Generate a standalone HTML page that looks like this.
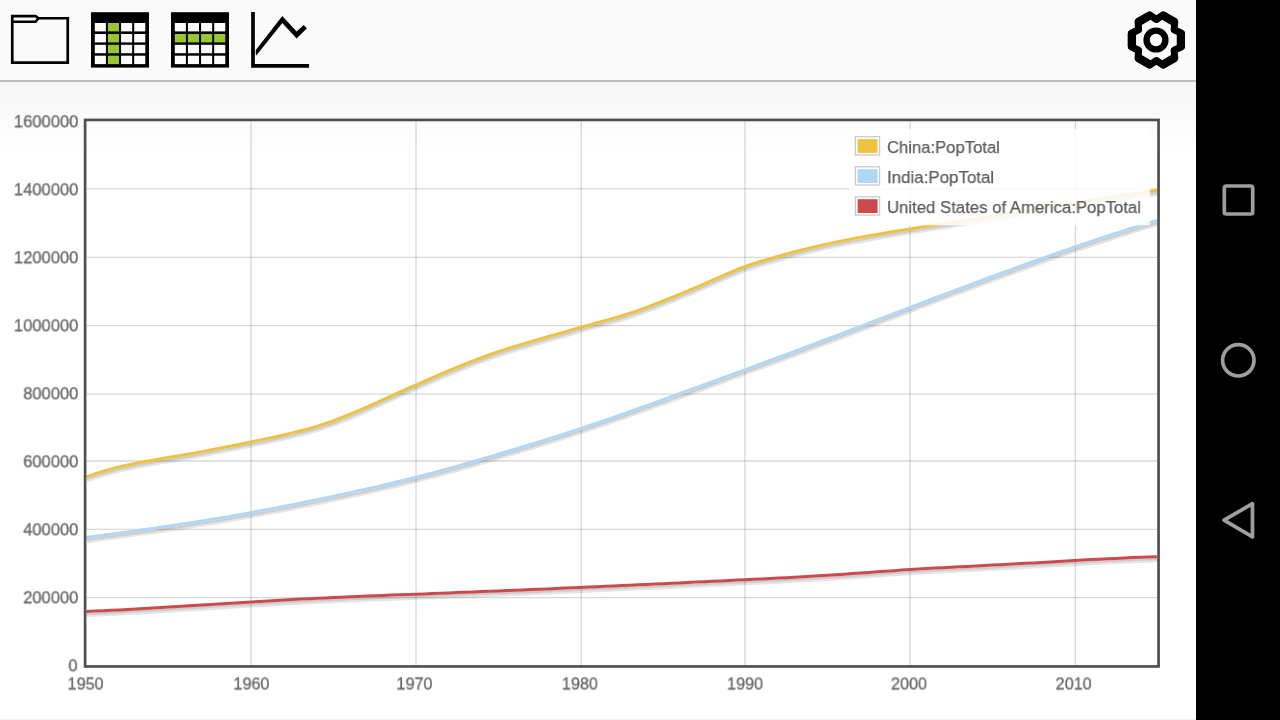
<!DOCTYPE html>
<html><head><meta charset="utf-8"><title>chart</title>
<style>
html,body{margin:0;padding:0;width:1280px;height:720px;overflow:hidden;background:#fff;font-family:"Liberation Sans",sans-serif;}
#app{position:absolute;left:0;top:0;width:1196px;height:720px;background:#fff;overflow:hidden;}
#grad{position:absolute;left:0;top:82px;width:1196px;height:70px;background:linear-gradient(to bottom,#f6f6f6 0%,#ffffff 100%);}
#bar{position:absolute;left:0;top:0;width:1196px;height:80px;background:#fafafa;border-bottom:2px solid #bcbcbc;}
#nav{position:absolute;left:1196px;top:0;width:84px;height:720px;background:#000;}
#botline{position:absolute;left:0;top:719px;width:1196px;height:1px;background:#f2f2f2;}
svg{position:absolute;left:0;top:0;}
.yl{will-change:transform;position:absolute;width:78.4px;transform-origin:100% 0;-webkit-text-stroke:0.3px #666666;text-align:right;font-size:16.8px;line-height:20px;height:20px;color:#666666;white-space:nowrap;}
.xl{will-change:transform;position:absolute;transform-origin:50% 0;-webkit-text-stroke:0.3px #666666;width:80px;text-align:center;font-size:16.8px;line-height:20px;height:20px;color:#666666;white-space:nowrap;}
#legbg{position:absolute;left:848px;top:128px;width:302px;height:97px;background:#fff;opacity:0.85;}
.lg{will-change:transform;position:absolute;transform-origin:0 0;-webkit-text-stroke:0.25px #5c5c5c;font-size:17.4px;line-height:22px;height:22px;color:#5c5c5c;white-space:nowrap;}
.sw{position:absolute;left:855.0px;width:22.84px;height:16.94px;border:1.33px solid #ccc;box-sizing:content-box;}
.sw i{position:absolute;left:1.67px;top:1.75px;right:1.4px;bottom:1.4px;display:block;}
</style></head><body>
<div id="app">
<div id="grad"></div>
<div id="bar"></div>
<svg id="chart" width="1196" height="720" viewBox="0 0 1196 720" fill="none">
<g stroke="rgba(84,84,84,0.22)" stroke-width="1.33">
<line x1="86.80" x2="1157.00" y1="597.70" y2="597.70"/>
<line x1="86.80" x2="1157.00" y1="529.30" y2="529.30"/>
<line x1="86.80" x2="1157.00" y1="461.00" y2="461.00"/>
<line x1="86.80" x2="1157.00" y1="394.10" y2="394.10"/>
<line x1="86.80" x2="1157.00" y1="325.70" y2="325.70"/>
<line x1="86.80" x2="1157.00" y1="257.30" y2="257.30"/>
<line x1="86.80" x2="1157.00" y1="188.95" y2="188.95"/>
<line x1="251.00" x2="251.00" y1="121.25" y2="665.00"/>
<line x1="416.00" x2="416.00" y1="121.25" y2="665.00"/>
<line x1="581.30" x2="581.30" y1="121.25" y2="665.00"/>
<line x1="744.90" x2="744.90" y1="121.25" y2="665.00"/>
<line x1="910.00" x2="910.00" y1="121.25" y2="665.00"/>
<line x1="1075.40" x2="1075.40" y1="121.25" y2="665.00"/>
</g>
<g stroke-linejoin="round" stroke-linecap="butt" fill="none">
<g transform="translate(0.6,3.5)"><path d="M86.3,476.8 L95.0,473.8 L103.3,471.2 L111.5,468.9 L119.7,466.8 L128.0,464.9 L136.2,463.2 L144.4,461.6 L152.7,460.2 L160.9,458.7 L169.1,457.3 L177.4,455.9 L185.6,454.6 L193.8,453.2 L202.1,451.6 L210.3,450.0 L218.5,448.4 L226.7,446.8 L235.0,445.2 L243.2,443.5 L251.4,441.8 L259.7,440.1 L267.9,438.4 L276.1,436.7 L284.4,434.8 L292.6,432.9 L300.8,430.8 L309.1,428.6 L317.3,426.2 L325.5,423.5 L333.8,420.7 L342.0,417.5 L350.2,414.2 L358.5,410.7 L366.7,407.1 L374.9,403.4 L383.2,399.6 L391.4,395.8 L399.6,392.1 L407.9,388.5 L416.1,384.9 L424.3,381.3 L432.6,377.7 L440.8,374.1 L449.0,370.6 L457.3,367.2 L465.5,363.8 L473.7,360.6 L482.0,357.5 L490.2,354.5 L498.4,351.7 L506.6,348.9 L514.9,346.4 L523.1,343.9 L531.3,341.5 L539.6,339.1 L547.8,336.8 L556.0,334.5 L564.3,332.1 L572.5,329.6 L580.7,327.2 L589.0,325.0 L597.2,322.7 L605.4,320.4 L613.7,318.1 L621.9,315.7 L630.1,313.1 L638.4,310.3 L646.6,307.3 L654.8,304.2 L663.1,301.0 L671.3,297.7 L679.5,294.3 L687.8,290.9 L696.0,287.4 L704.2,283.8 L712.5,280.2 L720.7,276.6 L728.9,273.0 L737.2,269.5 L745.4,266.3 L753.6,263.5 L761.8,261.0 L770.1,258.7 L778.3,256.3 L786.5,254.0 L794.8,251.8 L803.0,249.7 L811.2,247.6 L819.5,245.7 L827.7,243.9 L835.9,242.1 L844.2,240.5 L852.4,238.8 L860.6,237.3 L868.9,235.8 L877.1,234.4 L885.3,233.0 L893.6,231.6 L901.8,230.2 L910.0,228.9 L918.3,227.6 L926.5,226.3 L934.7,225.0 L943.0,223.7 L951.2,222.4 L959.4,221.1 L967.7,219.8 L975.9,218.5 L984.1,217.2 L992.4,215.9 L1000.6,214.6 L1008.8,213.3 L1017.1,212.0 L1025.3,210.7 L1033.5,209.4 L1041.7,208.1 L1050.0,206.8 L1058.2,205.5 L1066.4,204.2 L1074.7,202.9 L1082.9,201.6 L1091.1,200.3 L1099.4,199.1 L1107.6,197.8 L1115.8,196.5 L1124.1,195.2 L1132.3,194.0 L1140.5,192.7 L1148.8,191.5 L1157.0,190.2" stroke="rgba(0,0,0,0.1)" stroke-width="4.3"/></g><g transform="translate(0.42,2.45)"><path d="M86.3,476.8 L95.0,473.8 L103.3,471.2 L111.5,468.9 L119.7,466.8 L128.0,464.9 L136.2,463.2 L144.4,461.6 L152.7,460.2 L160.9,458.7 L169.1,457.3 L177.4,455.9 L185.6,454.6 L193.8,453.2 L202.1,451.6 L210.3,450.0 L218.5,448.4 L226.7,446.8 L235.0,445.2 L243.2,443.5 L251.4,441.8 L259.7,440.1 L267.9,438.4 L276.1,436.7 L284.4,434.8 L292.6,432.9 L300.8,430.8 L309.1,428.6 L317.3,426.2 L325.5,423.5 L333.8,420.7 L342.0,417.5 L350.2,414.2 L358.5,410.7 L366.7,407.1 L374.9,403.4 L383.2,399.6 L391.4,395.8 L399.6,392.1 L407.9,388.5 L416.1,384.9 L424.3,381.3 L432.6,377.7 L440.8,374.1 L449.0,370.6 L457.3,367.2 L465.5,363.8 L473.7,360.6 L482.0,357.5 L490.2,354.5 L498.4,351.7 L506.6,348.9 L514.9,346.4 L523.1,343.9 L531.3,341.5 L539.6,339.1 L547.8,336.8 L556.0,334.5 L564.3,332.1 L572.5,329.6 L580.7,327.2 L589.0,325.0 L597.2,322.7 L605.4,320.4 L613.7,318.1 L621.9,315.7 L630.1,313.1 L638.4,310.3 L646.6,307.3 L654.8,304.2 L663.1,301.0 L671.3,297.7 L679.5,294.3 L687.8,290.9 L696.0,287.4 L704.2,283.8 L712.5,280.2 L720.7,276.6 L728.9,273.0 L737.2,269.5 L745.4,266.3 L753.6,263.5 L761.8,261.0 L770.1,258.7 L778.3,256.3 L786.5,254.0 L794.8,251.8 L803.0,249.7 L811.2,247.6 L819.5,245.7 L827.7,243.9 L835.9,242.1 L844.2,240.5 L852.4,238.8 L860.6,237.3 L868.9,235.8 L877.1,234.4 L885.3,233.0 L893.6,231.6 L901.8,230.2 L910.0,228.9 L918.3,227.6 L926.5,226.3 L934.7,225.0 L943.0,223.7 L951.2,222.4 L959.4,221.1 L967.7,219.8 L975.9,218.5 L984.1,217.2 L992.4,215.9 L1000.6,214.6 L1008.8,213.3 L1017.1,212.0 L1025.3,210.7 L1033.5,209.4 L1041.7,208.1 L1050.0,206.8 L1058.2,205.5 L1066.4,204.2 L1074.7,202.9 L1082.9,201.6 L1091.1,200.3 L1099.4,199.1 L1107.6,197.8 L1115.8,196.5 L1124.1,195.2 L1132.3,194.0 L1140.5,192.7 L1148.8,191.5 L1157.0,190.2" stroke="rgba(0,0,0,0.1)" stroke-width="2.2"/></g><path d="M86.3,476.8 L95.0,473.8 L103.3,471.2 L111.5,468.9 L119.7,466.8 L128.0,464.9 L136.2,463.2 L144.4,461.6 L152.7,460.2 L160.9,458.7 L169.1,457.3 L177.4,455.9 L185.6,454.6 L193.8,453.2 L202.1,451.6 L210.3,450.0 L218.5,448.4 L226.7,446.8 L235.0,445.2 L243.2,443.5 L251.4,441.8 L259.7,440.1 L267.9,438.4 L276.1,436.7 L284.4,434.8 L292.6,432.9 L300.8,430.8 L309.1,428.6 L317.3,426.2 L325.5,423.5 L333.8,420.7 L342.0,417.5 L350.2,414.2 L358.5,410.7 L366.7,407.1 L374.9,403.4 L383.2,399.6 L391.4,395.8 L399.6,392.1 L407.9,388.5 L416.1,384.9 L424.3,381.3 L432.6,377.7 L440.8,374.1 L449.0,370.6 L457.3,367.2 L465.5,363.8 L473.7,360.6 L482.0,357.5 L490.2,354.5 L498.4,351.7 L506.6,348.9 L514.9,346.4 L523.1,343.9 L531.3,341.5 L539.6,339.1 L547.8,336.8 L556.0,334.5 L564.3,332.1 L572.5,329.6 L580.7,327.2 L589.0,325.0 L597.2,322.7 L605.4,320.4 L613.7,318.1 L621.9,315.7 L630.1,313.1 L638.4,310.3 L646.6,307.3 L654.8,304.2 L663.1,301.0 L671.3,297.7 L679.5,294.3 L687.8,290.9 L696.0,287.4 L704.2,283.8 L712.5,280.2 L720.7,276.6 L728.9,273.0 L737.2,269.5 L745.4,266.3 L753.6,263.5 L761.8,261.0 L770.1,258.7 L778.3,256.3 L786.5,254.0 L794.8,251.8 L803.0,249.7 L811.2,247.6 L819.5,245.7 L827.7,243.9 L835.9,242.1 L844.2,240.5 L852.4,238.8 L860.6,237.3 L868.9,235.8 L877.1,234.4 L885.3,233.0 L893.6,231.6 L901.8,230.2 L910.0,228.9 L918.3,227.6 L926.5,226.3 L934.7,225.0 L943.0,223.7 L951.2,222.4 L959.4,221.1 L967.7,219.8 L975.9,218.5 L984.1,217.2 L992.4,215.9 L1000.6,214.6 L1008.8,213.3 L1017.1,212.0 L1025.3,210.7 L1033.5,209.4 L1041.7,208.1 L1050.0,206.8 L1058.2,205.5 L1066.4,204.2 L1074.7,202.9 L1082.9,201.6 L1091.1,200.3 L1099.4,199.1 L1107.6,197.8 L1115.8,196.5 L1124.1,195.2 L1132.3,194.0 L1140.5,192.7 L1148.8,191.5 L1157.0,190.2" stroke="#edc240" stroke-width="3.0"/>
<g transform="translate(0.6,3.5)"><path d="M86.3,537.5 L95.0,536.3 L103.3,535.2 L111.5,534.1 L119.7,533.0 L128.0,531.9 L136.2,530.7 L144.4,529.6 L152.7,528.4 L160.9,527.2 L169.1,526.0 L177.4,524.8 L185.6,523.5 L193.8,522.2 L202.1,520.9 L210.3,519.6 L218.5,518.3 L226.7,516.9 L235.0,515.5 L243.2,514.0 L251.4,512.5 L259.7,511.0 L267.9,509.5 L276.1,507.9 L284.4,506.3 L292.6,504.7 L300.8,503.0 L309.1,501.3 L317.3,499.6 L325.5,497.9 L333.8,496.2 L342.0,494.4 L350.2,492.6 L358.5,490.8 L366.7,489.0 L374.9,487.1 L383.2,485.2 L391.4,483.3 L399.6,481.3 L407.9,479.2 L416.1,477.2 L424.3,475.0 L432.6,472.9 L440.8,470.6 L449.0,468.4 L457.3,466.1 L465.5,463.8 L473.7,461.4 L482.0,459.0 L490.2,456.6 L498.4,454.2 L506.6,451.7 L514.9,449.2 L523.1,446.7 L531.3,444.2 L539.6,441.7 L547.8,439.1 L556.0,436.5 L564.3,433.9 L572.5,431.2 L580.7,428.5 L589.0,425.7 L597.2,423.0 L605.4,420.1 L613.7,417.3 L621.9,414.4 L630.1,411.5 L638.4,408.5 L646.6,405.6 L654.8,402.6 L663.1,399.7 L671.3,396.7 L679.5,393.7 L687.8,390.7 L696.0,387.7 L704.2,384.7 L712.5,381.7 L720.7,378.7 L728.9,375.6 L737.2,372.6 L745.4,369.6 L753.6,366.6 L761.8,363.5 L770.1,360.5 L778.3,357.4 L786.5,354.3 L794.8,351.3 L803.0,348.2 L811.2,345.1 L819.5,342.0 L827.7,338.9 L835.9,335.8 L844.2,332.6 L852.4,329.5 L860.6,326.3 L868.9,323.2 L877.1,320.0 L885.3,316.9 L893.6,313.7 L901.8,310.6 L910.0,307.4 L918.3,304.3 L926.5,301.2 L934.7,298.0 L943.0,294.9 L951.2,291.8 L959.4,288.7 L967.7,285.7 L975.9,282.6 L984.1,279.5 L992.4,276.5 L1000.6,273.4 L1008.8,270.4 L1017.1,267.4 L1025.3,264.4 L1033.5,261.5 L1041.7,258.5 L1050.0,255.6 L1058.2,252.7 L1066.4,249.8 L1074.7,247.0 L1082.9,244.1 L1091.1,241.4 L1099.4,238.6 L1107.6,235.9 L1115.8,233.2 L1124.1,230.6 L1132.3,228.0 L1140.5,225.4 L1148.8,222.9 L1157.0,220.4" stroke="rgba(0,0,0,0.1)" stroke-width="4.3"/></g><g transform="translate(0.42,2.45)"><path d="M86.3,537.5 L95.0,536.3 L103.3,535.2 L111.5,534.1 L119.7,533.0 L128.0,531.9 L136.2,530.7 L144.4,529.6 L152.7,528.4 L160.9,527.2 L169.1,526.0 L177.4,524.8 L185.6,523.5 L193.8,522.2 L202.1,520.9 L210.3,519.6 L218.5,518.3 L226.7,516.9 L235.0,515.5 L243.2,514.0 L251.4,512.5 L259.7,511.0 L267.9,509.5 L276.1,507.9 L284.4,506.3 L292.6,504.7 L300.8,503.0 L309.1,501.3 L317.3,499.6 L325.5,497.9 L333.8,496.2 L342.0,494.4 L350.2,492.6 L358.5,490.8 L366.7,489.0 L374.9,487.1 L383.2,485.2 L391.4,483.3 L399.6,481.3 L407.9,479.2 L416.1,477.2 L424.3,475.0 L432.6,472.9 L440.8,470.6 L449.0,468.4 L457.3,466.1 L465.5,463.8 L473.7,461.4 L482.0,459.0 L490.2,456.6 L498.4,454.2 L506.6,451.7 L514.9,449.2 L523.1,446.7 L531.3,444.2 L539.6,441.7 L547.8,439.1 L556.0,436.5 L564.3,433.9 L572.5,431.2 L580.7,428.5 L589.0,425.7 L597.2,423.0 L605.4,420.1 L613.7,417.3 L621.9,414.4 L630.1,411.5 L638.4,408.5 L646.6,405.6 L654.8,402.6 L663.1,399.7 L671.3,396.7 L679.5,393.7 L687.8,390.7 L696.0,387.7 L704.2,384.7 L712.5,381.7 L720.7,378.7 L728.9,375.6 L737.2,372.6 L745.4,369.6 L753.6,366.6 L761.8,363.5 L770.1,360.5 L778.3,357.4 L786.5,354.3 L794.8,351.3 L803.0,348.2 L811.2,345.1 L819.5,342.0 L827.7,338.9 L835.9,335.8 L844.2,332.6 L852.4,329.5 L860.6,326.3 L868.9,323.2 L877.1,320.0 L885.3,316.9 L893.6,313.7 L901.8,310.6 L910.0,307.4 L918.3,304.3 L926.5,301.2 L934.7,298.0 L943.0,294.9 L951.2,291.8 L959.4,288.7 L967.7,285.7 L975.9,282.6 L984.1,279.5 L992.4,276.5 L1000.6,273.4 L1008.8,270.4 L1017.1,267.4 L1025.3,264.4 L1033.5,261.5 L1041.7,258.5 L1050.0,255.6 L1058.2,252.7 L1066.4,249.8 L1074.7,247.0 L1082.9,244.1 L1091.1,241.4 L1099.4,238.6 L1107.6,235.9 L1115.8,233.2 L1124.1,230.6 L1132.3,228.0 L1140.5,225.4 L1148.8,222.9 L1157.0,220.4" stroke="rgba(0,0,0,0.1)" stroke-width="2.2"/></g><path d="M86.3,537.5 L95.0,536.3 L103.3,535.2 L111.5,534.1 L119.7,533.0 L128.0,531.9 L136.2,530.7 L144.4,529.6 L152.7,528.4 L160.9,527.2 L169.1,526.0 L177.4,524.8 L185.6,523.5 L193.8,522.2 L202.1,520.9 L210.3,519.6 L218.5,518.3 L226.7,516.9 L235.0,515.5 L243.2,514.0 L251.4,512.5 L259.7,511.0 L267.9,509.5 L276.1,507.9 L284.4,506.3 L292.6,504.7 L300.8,503.0 L309.1,501.3 L317.3,499.6 L325.5,497.9 L333.8,496.2 L342.0,494.4 L350.2,492.6 L358.5,490.8 L366.7,489.0 L374.9,487.1 L383.2,485.2 L391.4,483.3 L399.6,481.3 L407.9,479.2 L416.1,477.2 L424.3,475.0 L432.6,472.9 L440.8,470.6 L449.0,468.4 L457.3,466.1 L465.5,463.8 L473.7,461.4 L482.0,459.0 L490.2,456.6 L498.4,454.2 L506.6,451.7 L514.9,449.2 L523.1,446.7 L531.3,444.2 L539.6,441.7 L547.8,439.1 L556.0,436.5 L564.3,433.9 L572.5,431.2 L580.7,428.5 L589.0,425.7 L597.2,423.0 L605.4,420.1 L613.7,417.3 L621.9,414.4 L630.1,411.5 L638.4,408.5 L646.6,405.6 L654.8,402.6 L663.1,399.7 L671.3,396.7 L679.5,393.7 L687.8,390.7 L696.0,387.7 L704.2,384.7 L712.5,381.7 L720.7,378.7 L728.9,375.6 L737.2,372.6 L745.4,369.6 L753.6,366.6 L761.8,363.5 L770.1,360.5 L778.3,357.4 L786.5,354.3 L794.8,351.3 L803.0,348.2 L811.2,345.1 L819.5,342.0 L827.7,338.9 L835.9,335.8 L844.2,332.6 L852.4,329.5 L860.6,326.3 L868.9,323.2 L877.1,320.0 L885.3,316.9 L893.6,313.7 L901.8,310.6 L910.0,307.4 L918.3,304.3 L926.5,301.2 L934.7,298.0 L943.0,294.9 L951.2,291.8 L959.4,288.7 L967.7,285.7 L975.9,282.6 L984.1,279.5 L992.4,276.5 L1000.6,273.4 L1008.8,270.4 L1017.1,267.4 L1025.3,264.4 L1033.5,261.5 L1041.7,258.5 L1050.0,255.6 L1058.2,252.7 L1066.4,249.8 L1074.7,247.0 L1082.9,244.1 L1091.1,241.4 L1099.4,238.6 L1107.6,235.9 L1115.8,233.2 L1124.1,230.6 L1132.3,228.0 L1140.5,225.4 L1148.8,222.9 L1157.0,220.4" stroke="#afd8f8" stroke-width="3.0"/>
<g transform="translate(0.6,3.5)"><path d="M86.3,611.5 L95.0,611.1 L103.3,610.7 L111.5,610.3 L119.7,609.9 L128.0,609.4 L136.2,609.0 L144.4,608.5 L152.7,608.0 L160.9,607.6 L169.1,607.1 L177.4,606.5 L185.6,606.0 L193.8,605.5 L202.1,605.0 L210.3,604.5 L218.5,604.0 L226.7,603.5 L235.0,602.9 L243.2,602.4 L251.4,601.9 L259.7,601.5 L267.9,601.0 L276.1,600.5 L284.4,600.0 L292.6,599.6 L300.8,599.1 L309.1,598.7 L317.3,598.3 L325.5,597.9 L333.8,597.5 L342.0,597.2 L350.2,596.8 L358.5,596.4 L366.7,596.1 L374.9,595.8 L383.2,595.5 L391.4,595.1 L399.6,594.8 L407.9,594.5 L416.1,594.2 L424.3,593.9 L432.6,593.6 L440.8,593.2 L449.0,592.9 L457.3,592.6 L465.5,592.3 L473.7,592.0 L482.0,591.6 L490.2,591.3 L498.4,590.9 L506.6,590.6 L514.9,590.3 L523.1,589.9 L531.3,589.6 L539.6,589.2 L547.8,588.9 L556.0,588.5 L564.3,588.1 L572.5,587.8 L580.7,587.4 L589.0,587.0 L597.2,586.7 L605.4,586.3 L613.7,585.9 L621.9,585.6 L630.1,585.2 L638.4,584.8 L646.6,584.4 L654.8,584.1 L663.1,583.7 L671.3,583.3 L679.5,582.9 L687.8,582.5 L696.0,582.1 L704.2,581.7 L712.5,581.3 L720.7,580.9 L728.9,580.5 L737.2,580.1 L745.4,579.7 L753.6,579.3 L761.8,578.9 L770.1,578.5 L778.3,578.1 L786.5,577.7 L794.8,577.2 L803.0,576.8 L811.2,576.3 L819.5,575.8 L827.7,575.3 L835.9,574.7 L844.2,574.2 L852.4,573.6 L860.6,573.0 L868.9,572.4 L877.1,571.8 L885.3,571.2 L893.6,570.7 L901.8,570.1 L910.0,569.6 L918.3,569.1 L926.5,568.6 L934.7,568.1 L943.0,567.7 L951.2,567.3 L959.4,566.8 L967.7,566.4 L975.9,566.0 L984.1,565.6 L992.4,565.1 L1000.6,564.7 L1008.8,564.3 L1017.1,563.8 L1025.3,563.3 L1033.5,562.9 L1041.7,562.4 L1050.0,561.9 L1058.2,561.4 L1066.4,561.0 L1074.7,560.5 L1082.9,560.1 L1091.1,559.6 L1099.4,559.2 L1107.6,558.8 L1115.8,558.4 L1124.1,558.0 L1132.3,557.6 L1140.5,557.3 L1148.8,557.0 L1157.0,556.7" stroke="rgba(0,0,0,0.1)" stroke-width="4.3"/></g><g transform="translate(0.42,2.45)"><path d="M86.3,611.5 L95.0,611.1 L103.3,610.7 L111.5,610.3 L119.7,609.9 L128.0,609.4 L136.2,609.0 L144.4,608.5 L152.7,608.0 L160.9,607.6 L169.1,607.1 L177.4,606.5 L185.6,606.0 L193.8,605.5 L202.1,605.0 L210.3,604.5 L218.5,604.0 L226.7,603.5 L235.0,602.9 L243.2,602.4 L251.4,601.9 L259.7,601.5 L267.9,601.0 L276.1,600.5 L284.4,600.0 L292.6,599.6 L300.8,599.1 L309.1,598.7 L317.3,598.3 L325.5,597.9 L333.8,597.5 L342.0,597.2 L350.2,596.8 L358.5,596.4 L366.7,596.1 L374.9,595.8 L383.2,595.5 L391.4,595.1 L399.6,594.8 L407.9,594.5 L416.1,594.2 L424.3,593.9 L432.6,593.6 L440.8,593.2 L449.0,592.9 L457.3,592.6 L465.5,592.3 L473.7,592.0 L482.0,591.6 L490.2,591.3 L498.4,590.9 L506.6,590.6 L514.9,590.3 L523.1,589.9 L531.3,589.6 L539.6,589.2 L547.8,588.9 L556.0,588.5 L564.3,588.1 L572.5,587.8 L580.7,587.4 L589.0,587.0 L597.2,586.7 L605.4,586.3 L613.7,585.9 L621.9,585.6 L630.1,585.2 L638.4,584.8 L646.6,584.4 L654.8,584.1 L663.1,583.7 L671.3,583.3 L679.5,582.9 L687.8,582.5 L696.0,582.1 L704.2,581.7 L712.5,581.3 L720.7,580.9 L728.9,580.5 L737.2,580.1 L745.4,579.7 L753.6,579.3 L761.8,578.9 L770.1,578.5 L778.3,578.1 L786.5,577.7 L794.8,577.2 L803.0,576.8 L811.2,576.3 L819.5,575.8 L827.7,575.3 L835.9,574.7 L844.2,574.2 L852.4,573.6 L860.6,573.0 L868.9,572.4 L877.1,571.8 L885.3,571.2 L893.6,570.7 L901.8,570.1 L910.0,569.6 L918.3,569.1 L926.5,568.6 L934.7,568.1 L943.0,567.7 L951.2,567.3 L959.4,566.8 L967.7,566.4 L975.9,566.0 L984.1,565.6 L992.4,565.1 L1000.6,564.7 L1008.8,564.3 L1017.1,563.8 L1025.3,563.3 L1033.5,562.9 L1041.7,562.4 L1050.0,561.9 L1058.2,561.4 L1066.4,561.0 L1074.7,560.5 L1082.9,560.1 L1091.1,559.6 L1099.4,559.2 L1107.6,558.8 L1115.8,558.4 L1124.1,558.0 L1132.3,557.6 L1140.5,557.3 L1148.8,557.0 L1157.0,556.7" stroke="rgba(0,0,0,0.1)" stroke-width="2.2"/></g><path d="M86.3,611.5 L95.0,611.1 L103.3,610.7 L111.5,610.3 L119.7,609.9 L128.0,609.4 L136.2,609.0 L144.4,608.5 L152.7,608.0 L160.9,607.6 L169.1,607.1 L177.4,606.5 L185.6,606.0 L193.8,605.5 L202.1,605.0 L210.3,604.5 L218.5,604.0 L226.7,603.5 L235.0,602.9 L243.2,602.4 L251.4,601.9 L259.7,601.5 L267.9,601.0 L276.1,600.5 L284.4,600.0 L292.6,599.6 L300.8,599.1 L309.1,598.7 L317.3,598.3 L325.5,597.9 L333.8,597.5 L342.0,597.2 L350.2,596.8 L358.5,596.4 L366.7,596.1 L374.9,595.8 L383.2,595.5 L391.4,595.1 L399.6,594.8 L407.9,594.5 L416.1,594.2 L424.3,593.9 L432.6,593.6 L440.8,593.2 L449.0,592.9 L457.3,592.6 L465.5,592.3 L473.7,592.0 L482.0,591.6 L490.2,591.3 L498.4,590.9 L506.6,590.6 L514.9,590.3 L523.1,589.9 L531.3,589.6 L539.6,589.2 L547.8,588.9 L556.0,588.5 L564.3,588.1 L572.5,587.8 L580.7,587.4 L589.0,587.0 L597.2,586.7 L605.4,586.3 L613.7,585.9 L621.9,585.6 L630.1,585.2 L638.4,584.8 L646.6,584.4 L654.8,584.1 L663.1,583.7 L671.3,583.3 L679.5,582.9 L687.8,582.5 L696.0,582.1 L704.2,581.7 L712.5,581.3 L720.7,580.9 L728.9,580.5 L737.2,580.1 L745.4,579.7 L753.6,579.3 L761.8,578.9 L770.1,578.5 L778.3,578.1 L786.5,577.7 L794.8,577.2 L803.0,576.8 L811.2,576.3 L819.5,575.8 L827.7,575.3 L835.9,574.7 L844.2,574.2 L852.4,573.6 L860.6,573.0 L868.9,572.4 L877.1,571.8 L885.3,571.2 L893.6,570.7 L901.8,570.1 L910.0,569.6 L918.3,569.1 L926.5,568.6 L934.7,568.1 L943.0,567.7 L951.2,567.3 L959.4,566.8 L967.7,566.4 L975.9,566.0 L984.1,565.6 L992.4,565.1 L1000.6,564.7 L1008.8,564.3 L1017.1,563.8 L1025.3,563.3 L1033.5,562.9 L1041.7,562.4 L1050.0,561.9 L1058.2,561.4 L1066.4,561.0 L1074.7,560.5 L1082.9,560.1 L1091.1,559.6 L1099.4,559.2 L1107.6,558.8 L1115.8,558.4 L1124.1,558.0 L1132.3,557.6 L1140.5,557.3 L1148.8,557.0 L1157.0,556.7" stroke="#cb4b4b" stroke-width="3.0"/>
</g>
<rect x="85.1" y="119.95" width="1073.45" height="546.5" stroke="#505050" stroke-width="2.7" fill="none"/>
</svg>
<div class="yl" style="left:-1px;top:656px;transform:translate(0.20px,0.30px) scaleX(0.9880);">0</div><div class="yl" style="left:0px;top:588px;transform:translate(0.00px,0.30px) scaleX(0.9880);">200000</div><div class="yl" style="left:0px;top:520px;transform:translate(0.00px,0.30px) scaleX(0.9880);">400000</div><div class="yl" style="left:0px;top:452px;transform:translate(0.00px,0.30px) scaleX(0.9880);">600000</div><div class="yl" style="left:0px;top:384px;transform:translate(0.00px,0.30px) scaleX(0.9880);">800000</div><div class="yl" style="left:0px;top:316px;transform:translate(0.00px,0.30px) scaleX(0.9880);">1000000</div><div class="yl" style="left:0px;top:248px;transform:translate(0.00px,0.30px) scaleX(0.9880);">1200000</div><div class="yl" style="left:0px;top:180px;transform:translate(0.00px,0.30px) scaleX(0.9880);">1400000</div><div class="yl" style="left:0px;top:112px;transform:translate(0.00px,0.30px) scaleX(0.9880);">1600000</div>
<div class="xl" style="left:45px;top:674px;transform:translate(0.60px,0.50px) scaleX(0.9650);">1950</div><div class="xl" style="left:211px;top:674px;transform:translate(0.45px,0.50px) scaleX(0.9650);">1960</div><div class="xl" style="left:374px;top:674px;transform:translate(0.49px,0.50px) scaleX(0.9650);">1970</div><div class="xl" style="left:539px;top:674px;transform:translate(0.94px,0.50px) scaleX(0.9650);">1980</div><div class="xl" style="left:705px;top:674px;transform:translate(0.08px,0.50px) scaleX(0.9650);">1990</div><div class="xl" style="left:869px;top:674px;transform:translate(0.03px,0.50px) scaleX(0.9650);">2000</div><div class="xl" style="left:1033px;top:674px;transform:translate(0.68px,0.50px) scaleX(0.9650);">2010</div>

<svg width="1196" height="720" viewBox="0 0 1196 720" style="pointer-events:none">
<rect x="848.8" y="129.1" width="301.2" height="96.2" fill="#fff" fill-opacity="0.85"/>
<rect x="855.37" y="136.67" width="24.17" height="18.3" fill="#fff" stroke="#ccc" stroke-width="1.33"/>
<rect x="857.65" y="139.10" width="19.9" height="13.8" fill="#edc240"/>
<rect x="855.37" y="166.72" width="24.17" height="18.3" fill="#fff" stroke="#ccc" stroke-width="1.33"/>
<rect x="857.65" y="169.15" width="19.9" height="13.8" fill="#afd8f8"/>
<rect x="855.37" y="196.77" width="24.17" height="18.3" fill="#fff" stroke="#ccc" stroke-width="1.33"/>
<rect x="857.65" y="199.20" width="19.9" height="13.8" fill="#cb4b4b"/>
</svg>
<div class="lg" style="left:887px;top:136px;transform:translate(0.00px,0.00px) scaleX(0.9570);">China:PopTotal</div>
<div class="lg" style="left:887px;top:166px;transform:translate(0.00px,0.00px) scaleX(0.9720);">India:PopTotal</div>
<div class="lg" style="left:887px;top:196px;transform:translate(0.00px,0.00px) scaleX(0.9625);">United States of America:PopTotal</div>
<svg id="icons" width="1196" height="82" viewBox="0 0 1196 82">
<!-- folder -->
<g fill="none" stroke="#000" stroke-width="2.7" stroke-linejoin="miter">
<path d="M12.25,16.05 H35.6 L38.4,18.25 H67.75 V62.55 H12.25 Z"/>
<path d="M12.25,21.75 H35.6 L38.4,18.25"/>
</g>
<!-- table 1 -->
<rect x="91" y="12.2" width="58" height="55.4" fill="#000"/>
<g fill="#fbfbfb">
<rect x="94.80" y="23.00" width="11.1" height="8.4"/>
<rect x="107.93" y="23.00" width="11.1" height="8.4" fill="#98c630"/>
<rect x="121.06" y="23.00" width="11.1" height="8.4"/>
<rect x="134.19" y="23.00" width="11.1" height="8.4"/>
<rect x="94.80" y="34.00" width="11.1" height="8.4"/>
<rect x="107.93" y="34.00" width="11.1" height="8.4" fill="#98c630"/>
<rect x="121.06" y="34.00" width="11.1" height="8.4"/>
<rect x="134.19" y="34.00" width="11.1" height="8.4"/>
<rect x="94.80" y="44.80" width="11.1" height="8.4"/>
<rect x="107.93" y="44.80" width="11.1" height="8.4" fill="#98c630"/>
<rect x="121.06" y="44.80" width="11.1" height="8.4"/>
<rect x="134.19" y="44.80" width="11.1" height="8.4"/>
<rect x="94.80" y="55.70" width="11.1" height="8.4"/>
<rect x="107.93" y="55.70" width="11.1" height="8.4" fill="#98c630"/>
<rect x="121.06" y="55.70" width="11.1" height="8.4"/>
<rect x="134.19" y="55.70" width="11.1" height="8.4"/>
</g>
<!-- table 2 -->
<rect x="171" y="12.2" width="58" height="55.4" fill="#000"/>
<g fill="#fbfbfb">
<rect x="174.80" y="23.00" width="11.1" height="8.4"/>
<rect x="187.93" y="23.00" width="11.1" height="8.4"/>
<rect x="201.06" y="23.00" width="11.1" height="8.4"/>
<rect x="214.19" y="23.00" width="11.1" height="8.4"/>
<rect x="174.80" y="34.00" width="11.1" height="8.4" fill="#98c630"/>
<rect x="187.93" y="34.00" width="11.1" height="8.4" fill="#98c630"/>
<rect x="201.06" y="34.00" width="11.1" height="8.4" fill="#98c630"/>
<rect x="214.19" y="34.00" width="11.1" height="8.4" fill="#98c630"/>
<rect x="174.80" y="44.80" width="11.1" height="8.4"/>
<rect x="187.93" y="44.80" width="11.1" height="8.4"/>
<rect x="201.06" y="44.80" width="11.1" height="8.4"/>
<rect x="214.19" y="44.80" width="11.1" height="8.4"/>
<rect x="174.80" y="55.70" width="11.1" height="8.4"/>
<rect x="187.93" y="55.70" width="11.1" height="8.4"/>
<rect x="201.06" y="55.70" width="11.1" height="8.4"/>
<rect x="214.19" y="55.70" width="11.1" height="8.4"/>
</g>
<!-- line chart icon -->
<path d="M253,12.1 V65.9 H309" fill="none" stroke="#000" stroke-width="3.75"/>
<path d="M255.8,49.95 L282.3,15.9 L296.6,31.5 L303.7,24.9 L306.9,28.2 L296.6,38.6 L282.3,23.0 L256.3,55.6 L255.8,55.1 Z" fill="#000"/>
<!-- gear -->
<path d="M1181.51,46.73 L1181.51,33.27 L1174.15,29.75 L1174.78,21.62 L1163.13,14.89 L1156.40,19.50 L1149.67,14.89 L1138.02,21.62 L1138.65,29.75 L1131.29,33.27 L1131.29,46.73 L1138.65,50.25 L1138.02,58.38 L1149.67,65.11 L1156.40,60.50 L1163.13,65.11 L1174.78,58.38 L1174.15,50.25Z" fill="none" stroke="#000" stroke-width="7.0" stroke-linejoin="round"/>
<path d="M1180.86,45.65 L1180.86,34.35 M1173.52,21.64 L1163.74,16.00 M1149.06,16.00 L1139.28,21.64 M1131.94,34.35 L1131.94,45.65 M1139.28,58.36 L1149.06,64.00 M1163.74,64.00 L1173.52,58.36" fill="none" stroke="#000" stroke-width="8.2" stroke-linecap="round"/>
<circle cx="1156.0" cy="40.0" r="9.4" fill="none" stroke="#000" stroke-width="6.4"/>
</svg>
</div>
<div id="nav">
<svg width="84" height="720" viewBox="0 0 84 720" fill="none" stroke="#9e9e9e" stroke-width="3.7" stroke-linejoin="round">
<rect x="28.3" y="186" width="28.4" height="28" rx="2" ry="2"/>
<circle cx="42.3" cy="360.3" r="15.7"/>
<path d="M56.5,503.6 V536.9 L28.0,520.2 Z"/>
</svg>
</div>
<div id="botline"></div>
</body></html>
